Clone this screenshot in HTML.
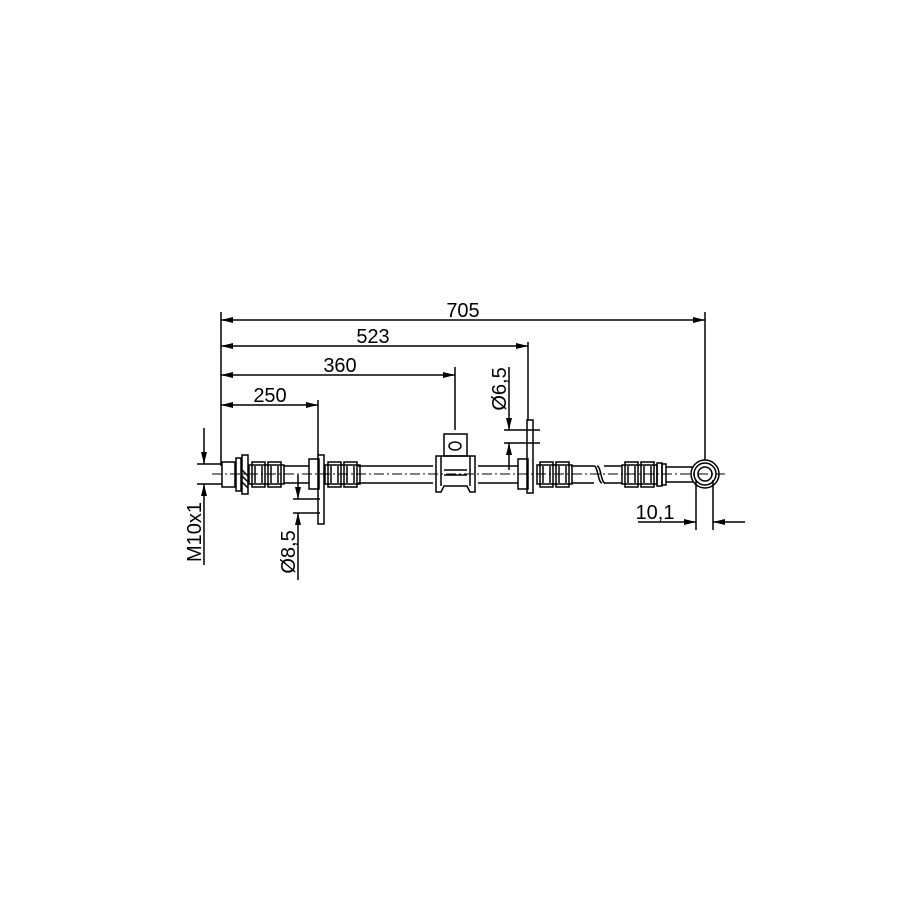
<!DOCTYPE html>
<html><head><style>html,body{margin:0;padding:0;background:#fff}svg{display:block}</style></head>
<body>
<svg width="915" height="915" viewBox="0 0 915 915" xmlns="http://www.w3.org/2000/svg" font-family="Liberation Sans, sans-serif">
<defs>
<marker id="a" viewBox="0 0 12 6" refX="12" refY="3" markerWidth="13" markerHeight="6" orient="auto-start-reverse" markerUnits="userSpaceOnUse"><path d="M0,0 L12,3 L0,6z" fill="#000"/></marker>
</defs>
<g stroke="#000" stroke-width="1.5" fill="none">
<line x1="221" y1="312" x2="221" y2="466"/>
<line x1="318" y1="400" x2="318" y2="456"/>
<line x1="455" y1="367" x2="455" y2="430"/>
<line x1="528" y1="342" x2="528" y2="420"/>
<line x1="705" y1="312" x2="705" y2="460"/>
<line x1="221" y1="320" x2="705" y2="320" marker-start="url(#a)" marker-end="url(#a)"/>
<line x1="221" y1="346" x2="528" y2="346" marker-start="url(#a)" marker-end="url(#a)"/>
<line x1="221" y1="375" x2="455" y2="375" marker-start="url(#a)" marker-end="url(#a)"/>
<line x1="221" y1="405" x2="318" y2="405" marker-start="url(#a)" marker-end="url(#a)"/>
<line x1="197" y1="464" x2="222" y2="464"/>
<line x1="197" y1="484" x2="222" y2="484"/>
<line x1="204" y1="428" x2="204" y2="464" marker-end="url(#a)"/>
<line x1="204" y1="565" x2="204" y2="484" marker-end="url(#a)"/>
<line x1="293" y1="499" x2="320" y2="499"/>
<line x1="293" y1="513" x2="320" y2="513"/>
<line x1="298" y1="475" x2="298" y2="499" marker-end="url(#a)"/>
<line x1="298" y1="580" x2="298" y2="513" marker-end="url(#a)"/>
<line x1="504" y1="430" x2="540" y2="430"/>
<line x1="504" y1="443" x2="540" y2="443"/>
<line x1="509" y1="367" x2="509" y2="430" marker-end="url(#a)"/>
<line x1="509" y1="470" x2="509" y2="443" marker-end="url(#a)"/>
<line x1="696" y1="480" x2="696" y2="530"/>
<line x1="713" y1="480" x2="713" y2="530"/>
<line x1="638" y1="522" x2="696" y2="522" marker-end="url(#a)"/>
<line x1="745" y1="522" x2="713" y2="522" marker-end="url(#a)"/>
<!-- tubes -->
<path d="M284,466 H309 M284,483 H309 M358,466 H433 M358,483 H433 M478,466 H518 M478,483 H518 M571,466 H594 M571,483 H594 M604,466 H622 M604,483 H622 M666,467 H693 M666,482 H693"/>
<path d="M594,466 c4,0 4,17 8,17 M597,466 c4,0 4,17 8,17"/>
<!-- left nut -->
<rect x="222" y="462" width="13" height="25"/>
<rect x="236" y="458" width="5" height="33"/>
<rect x="242" y="455" width="6" height="39"/>
<path d="M242,470 l6,6 M242,476 l6,6 M242,482 l6,6"/>
<!-- crimps -->
<g id="cr">
<rect x="249" y="465" width="35" height="19"/>
<rect x="252" y="462" width="13" height="25"/>
<rect x="268" y="462" width="13" height="25"/>
<path d="M255,466 V483 M262,466 V483 M271,466 V483 M278,466 V483"/>
</g>
<use href="#cr" x="76"/>
<use href="#cr" x="288"/>
<use href="#cr" x="373"/>
<rect x="657" y="463" width="5" height="23"/>
<rect x="662" y="464" width="4" height="21"/>
<!-- flanges -->
<rect x="309" y="459" width="10" height="30"/>
<rect x="318" y="455" width="6" height="69"/>
<rect x="518" y="459" width="10" height="30"/>
<rect x="527" y="420" width="6" height="73"/>
<!-- bracket -->
<rect x="444" y="434" width="23" height="22"/>
<path d="M436,456 H475 V492 H470 L467,486 H444 L441,492 H436 Z"/>
<path d="M441,456 V486 M470,456 V486 M444,470 H467 M444,475 H467"/>
<ellipse cx="455" cy="446" rx="6" ry="4"/>
<!-- eye -->
<circle cx="705" cy="474" r="14"/>
<circle cx="705" cy="474" r="11"/>
<circle cx="705" cy="474" r="7"/>
</g>
<line x1="212" y1="474" x2="725" y2="474" stroke="#000" stroke-width="0.9" stroke-dasharray="10,3,2,3"/>
<g font-size="20" fill="#000">
<text x="463" y="317" text-anchor="middle">705</text>
<text x="373" y="343" text-anchor="middle">523</text>
<text x="340" y="372" text-anchor="middle">360</text>
<text x="270" y="402" text-anchor="middle">250</text>
<text x="655" y="519" text-anchor="middle">10,1</text>
<text transform="translate(201,532) rotate(-90)" text-anchor="middle">M10x1</text>
<text transform="translate(295,552) rotate(-90)" text-anchor="middle">Ø8,5</text>
<text transform="translate(506,389) rotate(-90)" text-anchor="middle">Ø6,5</text>
</g>
</svg>
</body></html>
